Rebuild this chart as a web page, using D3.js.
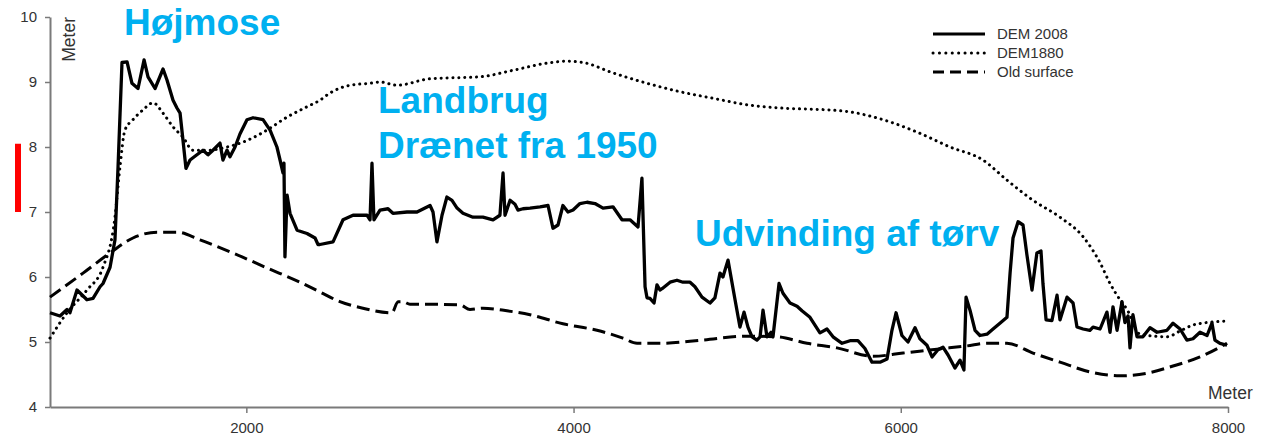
<!DOCTYPE html>
<html>
<head>
<meta charset="utf-8">
<script src="https://cdn.jsdelivr.net/npm/d3@7"></script>
<style>
  html, body { margin: 0; padding: 0; background: #fff; }
  svg { display: block; font-family: "Liberation Sans", Arial, sans-serif; }
</style>
</head>
<body>
<svg id="chart" width="1281" height="439"></svg>
<script>
// Profile along transect: [distance (m), elevation (m)]
const dem2008 = [
  [800,5.45],[861,5.4],[904,5.5],[922,5.45],[965,5.8],[1026,5.65],[1063,5.67],[1106,5.85],[1124,5.9],
  [1167,6.15],[1197,6.57],[1216,7.7],[1240,9.3],[1271,9.31],[1301,8.98],[1338,8.9],[1375,9.34],[1399,9.08],
  [1442,8.9],[1491,9.2],[1515,9.03],[1552,8.72],[1576,8.6],[1595,8.52],[1613,8.1],[1631,7.67],[1656,7.8],
  [1698,7.88],[1735,7.95],[1766,7.88],[1796,7.95],[1839,8.06],[1857,7.8],[1882,7.95],[1900,7.85],[1931,8.0],
  [1961,8.2],[2004,8.42],[2041,8.45],[2102,8.42],[2145,8.26],[2187,8.0],[2206,7.8],[2224,7.6],[2230,7.75],
  [2236,6.31],[2249,7.26],[2267,6.98],[2310,6.72],[2371,6.67],[2420,6.6],[2438,6.5],[2450,6.5],[2530,6.54],
  [2591,6.88],[2652,6.95],[2738,6.95],[2756,6.88],[2768,7.75],[2780,6.88],[2817,7.03],[2866,7.05],[2896,6.98],
  [2982,7.0],[3043,7.0],[3123,7.1],[3141,7.0],[3165,6.54],[3196,6.95],[3226,7.23],[3257,7.18],[3288,7.06],
  [3324,6.98],[3385,6.92],[3446,6.92],[3508,6.88],[3550,6.95],[3569,7.6],[3581,6.95],[3612,7.18],[3642,7.12],
  [3660,7.03],[3691,7.05],[3734,7.06],[3795,7.08],[3844,7.1],[3874,6.75],[3905,6.8],[3935,7.1],[3966,7.0],
  [3997,7.03],[4039,7.13],[4082,7.15],[4131,7.13],[4180,7.06],[4241,7.08],[4296,6.88],[4345,6.88],[4394,6.77],
  [4418,7.52],[4437,5.85],[4449,5.68],[4467,5.67],[4492,5.6],[4510,5.88],[4528,5.8],[4541,5.82],[4590,5.92],
  [4632,5.95],[4669,5.92],[4712,5.92],[4742,5.85],[4785,5.69],[4834,5.6],[4864,5.68],[4895,6.06],[4913,6.0],
  [4944,6.26],[4987,5.65],[5017,5.23],[5042,5.46],[5066,5.23],[5091,5.08],[5121,5.03],[5140,5.08],[5158,5.49],
  [5182,5.08],[5207,5.15],[5219,5.08],[5256,5.9],[5280,5.75],[5323,5.6],[5366,5.55],[5396,5.48],[5445,5.38],
  [5506,5.14],[5549,5.2],[5586,5.08],[5641,4.98],[5690,5.02],[5738,5.02],[5781,4.9],[5824,4.69],[5873,4.69],
  [5916,4.74],[5946,5.18],[5971,5.45],[6007,5.1],[6044,5.0],[6087,5.22],[6117,5.05],[6160,4.95],[6191,4.77],
  [6227,4.88],[6258,4.92],[6289,4.8],[6331,4.6],[6362,4.72],[6386,4.57],[6399,5.69],[6423,5.49],[6454,5.18],
  [6484,5.1],[6527,5.12],[6564,5.2],[6606,5.29],[6649,5.38],[6668,6.06],[6686,6.6],[6717,6.85],[6747,6.8],
  [6771,6.34],[6802,5.8],[6832,6.37],[6857,6.4],[6869,5.9],[6888,5.34],[6924,5.33],[6955,5.72],[6973,5.34],
  [7016,5.69],[7053,5.6],[7077,5.23],[7114,5.2],[7156,5.18],[7175,5.23],[7218,5.2],[7260,5.46],[7279,5.15],
  [7297,5.54],[7322,5.18],[7352,5.62],[7370,5.3],[7389,5.4],[7401,4.91],[7419,5.42],[7444,5.08],[7480,5.08],
  [7523,5.22],[7566,5.15],[7627,5.18],[7664,5.29],[7707,5.2],[7749,5.03],[7786,5.05],[7829,5.15],[7872,5.1],
  [7902,5.29],[7920,5.03],[7951,4.98],[7994,4.95]
];

const dem1880 = [
  [800,5.06],[904,5.45],[1026,5.8],[1124,6.15],[1197,6.92],[1228,7.7],[1258,8.26],[1307,8.42],[1368,8.57],
  [1430,8.68],[1491,8.52],[1552,8.31],[1613,8.15],[1674,7.95],[1760,7.95],[1882,8.0],[2004,8.1],[2126,8.26],
  [2249,8.46],[2371,8.62],[2450,8.72],[2511,8.83],[2634,8.95],[2756,8.98],[2817,9.0],[2921,8.95],[3123,9.05],
  [3428,9.08],[3630,9.18],[3838,9.29],[3960,9.32],[4058,9.3],[4241,9.14],[4449,8.98],[4651,8.85],[4852,8.75],
  [5060,8.65],[5262,8.6],[5463,8.58],[5567,8.57],[5690,8.54],[5891,8.42],[6099,8.23],[6301,8.0],[6502,7.8],
  [6649,7.49],[6808,7.18],[6973,6.92],[7114,6.62],[7218,6.22],[7279,5.9],[7340,5.65],[7383,5.5],[7462,5.12],
  [7627,5.08],[7707,5.17],[7786,5.26],[7872,5.3],[7994,5.32]
];

const oldSurface = [
  [800,5.69],[1002,6.06],[1167,6.37],[1307,6.6],[1454,6.69],[1576,6.69],[1717,6.57],[1918,6.37],[2126,6.14],
  [2328,5.92],[2450,5.77],[2572,5.62],[2713,5.52],[2890,5.45],[2927,5.62],[2958,5.62],[3000,5.58],[3123,5.58],
  [3306,5.57],[3367,5.5],[3446,5.52],[3593,5.48],[3734,5.42],[3935,5.28],[4143,5.18],[4302,5.06],[4388,4.98],
  [4528,4.98],[4791,5.03],[5060,5.09],[5244,5.08],[5427,4.98],[5610,4.91],[5830,4.78],[6014,4.83],[6221,4.89],
  [6405,4.94],[6527,4.98],[6649,4.98],[6808,4.83],[6973,4.69],[7156,4.54],[7340,4.48],[7505,4.52],[7664,4.63],
  [7829,4.77],[7994,4.98]
];

const xTicks = [2000, 4000, 6000, 8000];
const yTicks = [4, 5, 6, 7, 8, 9, 10];

const series = [
  { name: 'DEM 2008',    data: dem2008,    dash: null,      cap: 'butt',  curve: d3.curveLinear },
  { name: 'DEM1880',     data: dem1880,    dash: '0.1,5.8', cap: 'round', curve: d3.curveMonotoneX },
  { name: 'Old surface', data: oldSurface, dash: '13,6',    cap: 'butt',  curve: d3.curveMonotoneX },
];

const notes = [
  { text: 'Højmose',           x: 124, y: 35 },
  { text: 'Landbrug',          x: 378, y: 113 },
  { text: 'Drænet fra 1950',   x: 378, y: 158 },
  { text: 'Udvinding af tørv', x: 695, y: 246 },
];

const svg = d3.select('#chart');
const x = d3.scaleLinear().domain([800, 8000]).range([50, 1228]);
const y = d3.scaleLinear().domain([4, 10]).range([407, 17]);
const AXIS = '#7a7a7a', TXT = '#333';
const FONT = '"Liberation Sans", Arial, sans-serif';

// axes
const xAxis = svg.append('g').attr('transform', 'translate(0,407)')
  .call(d3.axisBottom(x).tickValues(xTicks).tickFormat(d3.format('d'))
    .tickSize(6).tickSizeOuter(0).tickPadding(9));
const yAxis = svg.append('g').attr('transform', 'translate(50,0)')
  .call(d3.axisLeft(y).tickValues(yTicks).tickFormat(d3.format('d'))
    .tickSize(5).tickSizeOuter(0).tickPadding(8));
[xAxis, yAxis].forEach(a => {
  a.attr('font-size', 15).attr('font-family', FONT);
  a.select('.domain').attr('stroke', AXIS).attr('stroke-width', 2);
  a.selectAll('.tick line').attr('stroke', AXIS).attr('stroke-width', 1.5);
  a.selectAll('.tick text').attr('fill', TXT);
});

svg.append('text')
  .attr('transform', 'translate(75,17) rotate(-90)')
  .attr('text-anchor', 'end').attr('font-size', 17.5).attr('fill', TXT)
  .text('Meter');
svg.append('text')
  .attr('x', 1208).attr('y', 399)
  .attr('font-size', 17.5).attr('fill', TXT)
  .text('Meter');

// red marker bar
svg.append('rect')
  .attr('x', 15).attr('width', 6)
  .attr('y', y(8.05)).attr('height', y(7.0) - y(8.05))
  .attr('fill', '#ff0000');

// lines
series.forEach(s => {
  const line = d3.line().x(d => x(d[0])).y(d => y(d[1])).curve(s.curve);
  svg.append('path')
    .datum(s.data)
    .attr('d', line)
    .attr('fill', 'none')
    .attr('stroke', '#000')
    .attr('stroke-width', s.dash ? 3 : 3.3)
    .attr('stroke-linejoin', 'round')
    .attr('stroke-linecap', s.cap)
    .attr('stroke-dasharray', s.dash);
});

// legend
const leg = svg.append('g').attr('transform', 'translate(933,34)');
series.forEach((s, i) => {
  const row = leg.append('g').attr('transform', `translate(0,${i * 19})`);
  row.append('line')
    .attr('x1', 0).attr('x2', 52).attr('y1', 0).attr('y2', 0)
    .attr('stroke', '#000').attr('stroke-width', 3)
    .attr('stroke-linecap', s.cap)
    .attr('stroke-dasharray', s.dash ? (s.cap === 'round' ? '0.1,6.3' : '11,6') : null);
  row.append('text')
    .attr('x', 64).attr('y', 5)
    .attr('font-size', 15).attr('fill', TXT)
    .text(s.name);
});

// annotations
svg.append('g').selectAll('text').data(notes).join('text')
  .attr('x', d => d.x).attr('y', d => d.y)
  .attr('font-size', 37).attr('font-weight', 'bold')
  .attr('fill', '#00B0F0')
  .text(d => d.text);
</script>
</body>
</html>
